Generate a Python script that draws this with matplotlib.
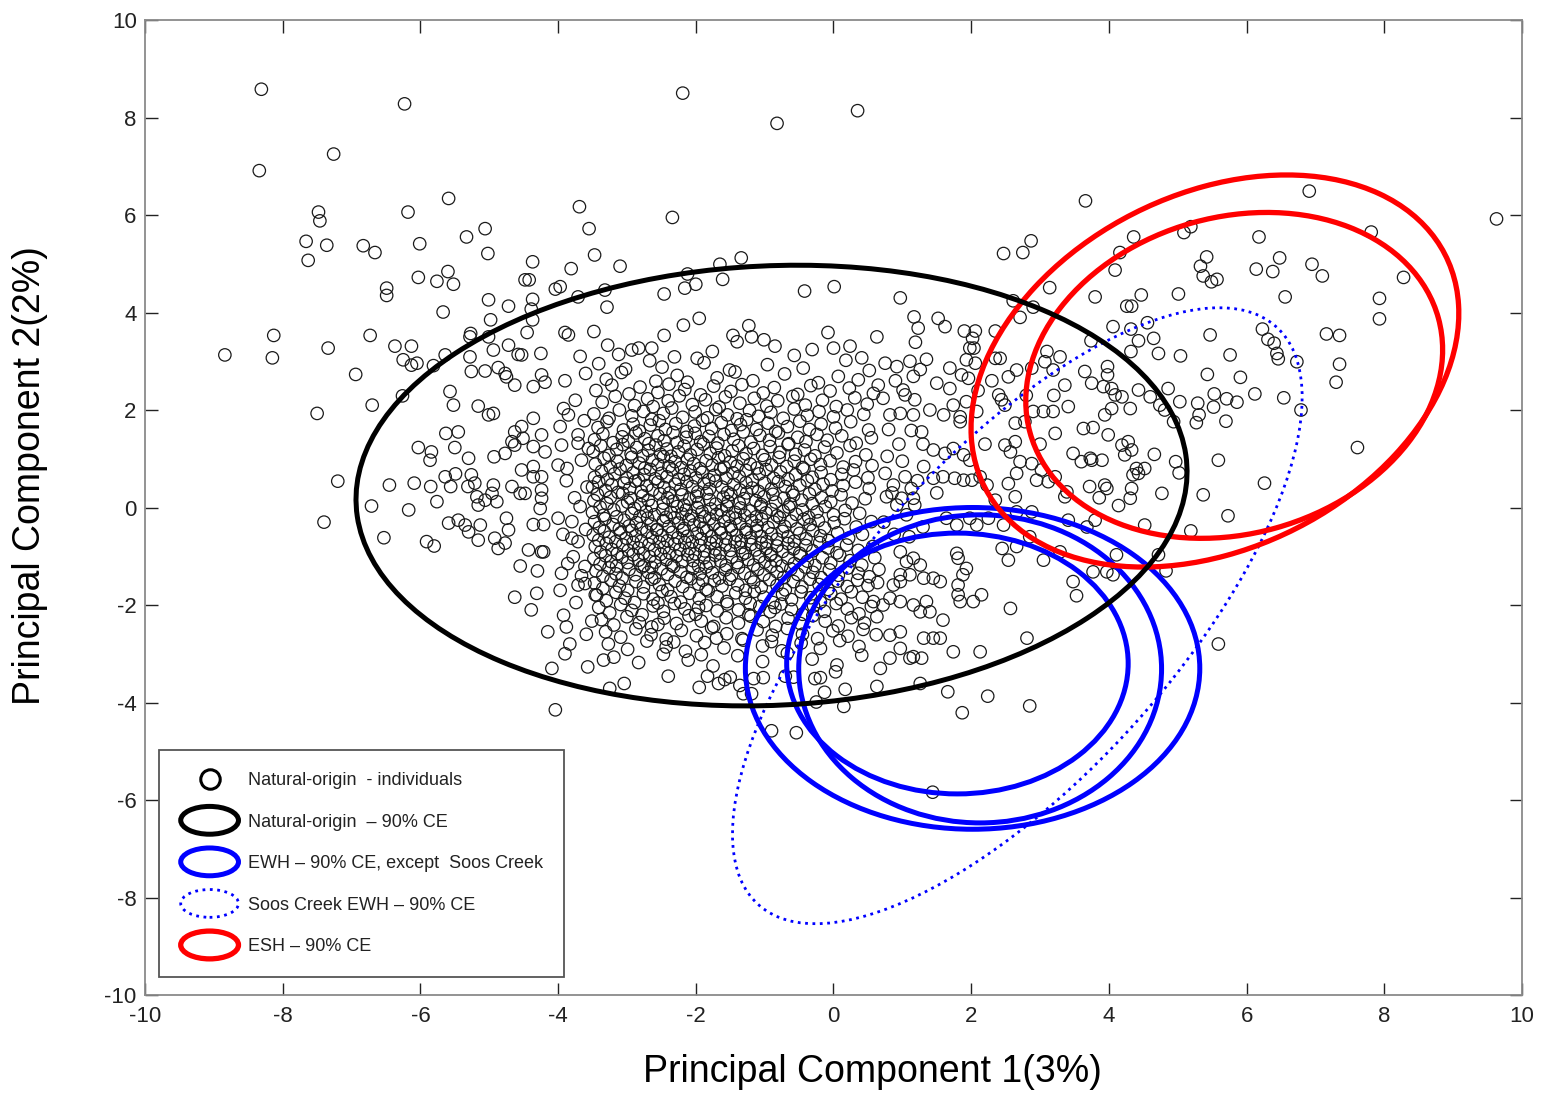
import numpy as np
import matplotlib
matplotlib.use("Agg")
import matplotlib.pyplot as plt
from matplotlib.patches import Ellipse
from matplotlib.legend_handler import HandlerPatch
from matplotlib.lines import Line2D

plt.rcParams['font.family'] = ['Liberation Sans', 'DejaVu Sans']
plt.rcParams['axes.unicode_minus'] = False

# PCA scores of natural-origin individuals (PC1, PC2)
far_left = [
    (-8.31, 8.58), (-6.23, 8.28), (-7.26, 7.25), (-8.34, 6.91), (-5.59, 6.34), (-7.48, 6.06), (-7.46, 5.88),
    (-6.18, 6.06), (-3.69, 6.17), (-5.06, 5.72), (-3.55, 5.72), (-7.66, 5.46), (-7.36, 5.38), (-6.83, 5.37),
    (-6.66, 5.23), (-5.33, 5.55), (-6.01, 5.41), (-5.02, 5.21), (-7.63, 5.07), (-3.47, 5.18), (-4.37, 5.04),
    (-3.81, 4.90), (-5.60, 4.84), (-6.03, 4.72), (-5.76, 4.64), (-5.52, 4.58), (-6.49, 4.50), (-6.49, 4.35),
    (-4.48, 4.67), (-4.42, 4.67), (-4.04, 4.48), (-3.97, 4.53), (-5.01, 4.26), (-4.37, 4.27), (-4.72, 4.13),
    (-4.39, 4.07), (-4.37, 3.85), (-5.67, 4.01), (-4.98, 3.85), (-8.13, 3.53), (-6.73, 3.53), (-5.27, 3.57),
    (-5.28, 3.50), (-5.01, 3.50), (-4.45, 3.59), (-3.90, 3.59), (-3.85, 3.54), (-3.48, 3.61), (-3.71, 4.32),
    (-3.32, 4.46), (-7.34, 3.27), (-6.37, 3.31), (-6.13, 3.31), (-4.94, 3.23), (-4.72, 3.33), (-8.84, 3.13),
    (-8.15, 3.07), (-6.94, 2.73), (-7.50, 1.93), (-6.70, 2.10), (-7.20, 0.54), (-7.40, -0.30), (-6.71, 0.03),
    (-6.53, -0.62), (-6.45, 0.46), (-6.09, 0.50), (-6.17, -0.05), (-6.26, 2.29), (-6.25, 3.03), (-6.13, 2.92),
    (-6.05, 2.96), (-5.81, 2.91), (-5.64, 3.13), (-5.28, 3.09), (-4.58, 3.14), (-4.53, 3.13), (-4.25, 3.16),
    (-5.26, 2.79), (-5.06, 2.80), (-4.87, 2.87), (-4.77, 2.75), (-4.75, 2.68), (-4.63, 2.51), (-4.36, 2.48),
    (-4.24, 2.72), (-4.19, 2.57), (-5.57, 2.38), (-5.52, 2.10), (-5.16, 2.08), (-5.01, 1.90), (-4.94, 1.93),
    (-5.63, 1.52), (-5.45, 1.55), (-5.50, 1.23), (-6.03, 1.23), (-5.84, 1.14), (-5.86, 0.97), (-5.30, 1.01),
    (-5.64, 0.63), (-5.49, 0.69), (-5.26, 0.67), (-5.85, 0.43), (-5.56, 0.43), (-5.21, 0.50), (-5.31, 0.43),
    (-5.76, 0.12), (-5.18, 0.22), (-5.06, 0.15), (-4.94, 0.46), (-4.96, 0.29), (-4.89, 0.12), (-5.16, 0.05),
    (-5.59, -0.32), (-5.45, -0.26), (-5.35, -0.36), (-5.30, -0.50), (-5.16, -0.67), (-5.13, -0.36), (-5.91, -0.70),
    (-5.80, -0.79), (-4.92, -0.63), (-4.77, -0.73), (-4.87, -0.84), (-4.72, -0.46), (-4.75, -0.22), (-4.93, 1.04),
    (-4.77, 1.11), (-4.63, 1.28), (-4.51, 1.42), (-4.63, 1.55), (-4.67, 1.35), (-4.53, 1.66), (-4.36, 1.83),
    (-4.24, 1.49), (-4.36, 1.25), (-4.19, 1.14), (-4.53, 0.77), (-4.36, 0.84), (-4.36, 0.63), (-4.24, 0.63),
    (-4.24, 0.36), (-4.00, 0.87), (-3.87, 0.80), (-4.67, 0.43), (-4.55, 0.29), (-4.48, 0.29), (-4.24, 0.19),
    (-4.26, -0.02), (-4.36, -0.35), (-4.21, -0.35), (-4.00, -0.22), (-3.97, 1.66), (-4.43, -0.87), (-4.24, -0.91),
    (-4.21, -0.91), (-3.92, 2.03), (-3.95, 1.28), (-3.71, 1.49), (-3.71, 1.32), (-3.56, 1.21), (-3.66, 0.97),
    (-3.68, 0.02), (-3.80, -0.29), (-3.80, -0.63), (-3.71, -0.70), (-3.95, -1.35), (-3.78, -1.01), (-3.61, -1.21),
    (-4.63, -1.84), (-4.31, -1.76), (-4.39, -2.10), (-3.92, -2.21), (-3.88, -2.45), (-3.51, -2.33), (-3.71, -1.59),
    (-3.61, -1.56), (-3.46, -1.79), (-4.09, -3.30), (-3.57, -3.27), (-3.34, -3.13), (-4.04, -4.15),
    (-3.90, 2.60), (-3.75, 2.20), (-3.60, 2.75), (-3.85, 1.90), (-3.62, 1.78), (-3.88, 0.55), (-3.58, 0.42),
    (-3.76, 0.20), (-3.93, -0.55), (-3.60, -0.45), (-3.86, -1.15), (-3.66, -1.40), (-3.97, -1.70), (-3.74, -1.95),
    (-3.59, -2.60), (-3.83, -2.80), (-4.15, -2.55), (-4.30, -1.30), (-4.55, -1.20), (-3.68, 3.10), (-3.90, -3.00),
]

top_band = [
    (-2.19, 8.50), (-0.82, 7.88), (0.35, 8.14), (-2.34, 5.95), (-3.10, 4.95), (-1.34, 5.12), (-1.65, 4.99),
    (-2.12, 4.79), (-1.61, 4.68), (-2.00, 4.58), (-2.16, 4.50), (-2.46, 4.38), (-3.29, 4.11), (-0.42, 4.44),
    (0.01, 4.53), (0.97, 4.30), (2.47, 5.21), (2.75, 5.23), (2.87, 5.47), (2.61, 4.24), (2.71, 3.90),
    (2.90, 4.11), (3.14, 4.51), (-1.95, 3.88), (-2.18, 3.74), (-2.46, 3.53), (-3.28, 3.33), (-1.23, 3.73),
    (-1.19, 3.50), (-1.46, 3.53), (-1.40, 3.40), (-1.01, 3.44), (-0.85, 3.31), (-0.08, 3.59), (0.00, 3.27),
    (0.24, 3.31), (0.63, 3.50), (1.17, 3.91), (1.23, 3.68), (1.19, 3.39), (1.52, 3.88), (1.62, 3.71),
    (1.90, 3.62), (2.06, 3.62), (2.02, 3.47), (2.35, 3.62), (2.04, 3.27), (-2.64, 3.27), (-2.93, 3.23),
]

right_side = [
    (3.66, 6.29), (6.91, 6.49), (9.63, 5.92), (4.36, 5.55), (4.16, 5.23), (4.09, 4.87), (5.09, 5.64),
    (5.19, 5.76), (6.18, 5.55), (7.81, 5.65), (5.42, 5.14), (5.33, 4.95), (5.37, 4.75), (5.49, 4.63),
    (5.57, 4.68), (6.14, 4.89), (6.38, 4.84), (6.48, 5.12), (6.95, 4.99), (7.10, 4.75), (8.28, 4.72),
    (3.80, 4.32), (4.47, 4.36), (4.26, 4.13), (4.33, 4.13), (5.01, 4.38), (6.56, 4.32), (7.93, 4.29),
    (7.93, 3.87), (4.06, 3.71), (4.32, 3.66), (4.56, 3.79), (4.43, 3.42), (4.65, 3.47), (3.74, 3.42),
    (5.47, 3.54), (6.23, 3.66), (6.31, 3.45), (6.40, 3.37), (7.16, 3.56), (7.35, 3.53),
    (4.72, 3.16), (5.04, 3.11), (5.76, 3.13), (6.44, 3.16), (6.46, 3.05), (6.73, 2.99), (7.35, 2.94),
    (7.30, 2.57), (5.43, 2.73), (5.91, 2.67), (6.12, 2.33), (6.54, 2.25), (6.79, 2.00), (5.53, 2.33),
    (5.71, 2.23), (5.86, 2.16), (5.52, 2.06), (5.29, 2.14), (5.03, 2.17), (5.31, 1.90), (5.27, 1.74),
    (5.70, 1.77), (7.61, 1.23), (5.59, 0.97), (6.26, 0.50), (5.37, 0.26), (5.73, -0.17), (5.19, -0.48),
    (5.59, -2.80), (4.86, 2.44), (4.66, 1.09), (4.97, 0.94), (5.02, 0.71), (4.77, 0.29), (4.32, 3.20),
    (3.98, 2.89), (3.98, 2.72), (3.65, 2.79), (3.75, 2.55), (3.92, 2.48), (4.04, 2.44), (4.09, 2.31),
    (4.19, 2.27), (4.31, 2.03), (4.04, 2.03), (3.94, 1.90), (3.36, 2.51), (3.41, 2.07), (3.29, 3.09),
    (4.43, 2.41), (4.60, 2.27), (4.74, 2.10), (4.81, 2.00), (4.94, 1.76), (3.63, 1.62), (3.77, 1.64),
    (3.99, 1.49), (4.19, 1.28), (4.28, 1.35), (4.33, 1.18), (4.23, 1.08), (3.48, 1.11), (3.60, 0.94),
    (3.73, 1.01), (3.75, 0.97), (3.90, 0.97), (4.40, 0.80), (4.52, 0.80), (4.35, 0.67), (4.43, 0.70),
    (4.33, 0.39), (4.31, 0.19), (4.14, 0.04), (3.94, 0.46), (3.97, 0.39), (3.72, 0.43), (3.86, 0.20),
    (3.39, 0.32), (3.36, 0.22), (3.41, -0.26), (3.80, -0.26), (3.68, -0.40), (4.52, -0.36), (4.11, -0.97),
    (3.97, -1.32), (4.06, -1.38), (3.77, -1.32), (4.72, -0.97), (4.83, -1.30), (3.48, -1.52), (3.53, -1.81),
]

mid_right = [
    (1.69, 2.86), (1.86, 2.72), (1.96, 2.65), (1.93, 3.03), (2.06, 2.96), (2.35, 3.06), (2.42, 3.06),
    (2.66, 2.82), (2.88, 2.86), (3.07, 2.99), (3.19, 2.82), (3.10, 3.20), (1.98, 3.27), (1.69, 2.44),
    (1.74, 2.10), (1.84, 1.86), (1.93, 2.17), (1.84, 1.76), (2.08, 1.97), (2.40, 2.31), (2.44, 2.21),
    (2.54, 2.68), (2.49, 2.10), (2.90, 1.97), (3.05, 1.97), (3.19, 1.97), (2.64, 1.73), (2.78, 1.76),
    (3.22, 1.52), (0.75, 2.96), (0.92, 2.89), (1.11, 3.00), (1.35, 3.04), (1.16, 2.69), (1.26, 2.83),
    (0.65, 2.51), (1.01, 2.41), (1.04, 2.31), (1.18, 2.21), (0.72, 2.24), (0.82, 1.90), (0.97, 1.93),
    (1.16, 1.90), (1.13, 1.58), (1.28, 1.55), (1.45, 1.18), (1.62, 1.11), (1.74, 1.21), (1.89, 1.08),
    (1.98, 0.97), (1.31, 0.84), (1.45, 0.60), (1.59, 0.63), (1.76, 0.60), (1.89, 0.56), (2.01, 0.56),
    (2.13, 0.63), (2.23, 0.46), (2.49, 1.28), (2.64, 1.35), (2.57, 1.14), (2.71, 0.94), (2.88, 0.90),
    (3.02, 0.77), (3.12, 0.53), (2.95, 0.56), (3.22, 0.63), (2.66, 0.70), (2.54, 0.49), (2.64, 0.22),
    (2.35, 0.15), (2.66, -0.09), (2.88, -0.09), (0.75, 0.70), (0.87, 0.46), (1.04, 0.63), (1.13, 0.39),
    (1.16, 0.19), (0.99, 0.19), (0.77, 0.22), (0.92, 0.05), (1.06, -0.15), (1.18, 0.05), (1.64, -0.22),
    (1.79, -0.36), (1.98, -0.22), (2.08, -0.36), (2.25, -0.22), (2.47, -0.36), (2.66, -0.80), (2.85, -0.60),
    (3.05, -1.08), (3.29, -0.91), (2.54, -1.08), (2.45, -0.84), (1.79, -0.94), (1.81, -1.04), (1.93, -1.25),
    (1.88, -1.38), (1.81, -1.59), (1.81, -1.79), (1.84, -1.93), (2.03, -1.93), (2.15, -1.79), (2.57, -2.07),
    (2.81, -2.68), (2.13, -2.96), (1.74, -2.96), (1.59, -2.31), (1.45, -2.68), (1.55, -2.68), (1.31, -2.68),
    (1.16, -3.06), (1.28, -3.09), (0.97, -0.91), (1.06, -1.11), (1.16, -1.04), (1.26, -1.18), (0.97, -1.38),
    (1.11, -1.38), (1.31, -1.45), (1.45, -1.45), (1.55, -1.52), (0.87, -1.59), (0.97, -1.52), (0.82, -1.86),
    (0.97, -1.93), (1.16, -2.00), (1.35, -1.93), (1.40, -2.14), (1.26, -2.14), (0.72, -2.00), (0.82, -2.62),
    (0.97, -2.55), (0.97, -2.89), (0.82, -3.09), (0.68, -3.30), (1.11, -3.09),
    (0.80, 1.60), (0.95, 1.30), (0.78, 1.05), (1.00, 0.95), (0.85, 0.30), (1.30, 1.30), (1.22, 0.55),
    (1.40, 2.00), (1.50, 2.55), (0.90, 2.60), (0.73, -0.30), (0.88, -0.55), (1.10, -0.60), (1.30, -0.40),
    (1.50, 0.30), (2.20, 1.30), (2.30, 2.60), (2.10, 2.40), (1.60, 1.90), (2.80, 2.30), (3.00, 1.30), (3.20, 2.30),
]

lower_band = [
    (-3.25, -3.71), (-3.04, -3.61), (-2.40, -3.46), (-1.95, -3.69), (-1.83, -3.46), (-1.67, -3.61), (-1.58, -3.53),
    (-1.50, -3.48), (-1.36, -3.65), (-1.31, -3.82), (-1.19, -3.82), (-1.16, -3.51), (-1.02, -3.49), (-0.70, -3.46),
    (-0.58, -3.48), (-0.27, -3.51), (-0.19, -3.49), (-0.13, -3.79), (-0.25, -3.99), (0.17, -3.73), (0.15, -4.08),
    (0.03, -3.37), (0.63, -3.67), (1.26, -3.61), (1.66, -3.78), (1.87, -4.21), (2.24, -3.87), (2.85, -4.07),
    (-0.90, -4.58), (-0.54, -4.62), (1.44, -5.84),
]

core_upper = [
    (-3.12, 3.14), (-2.83, 3.27), (-2.31, 3.09), (-1.76, 3.2), (-0.57, 3.12), (-0.31, 3.24), (0.41, 3.07), (-1.98, 3.06),
    (-3.41, 2.95), (-3.02, 2.84), (-2.67, 3.01), (-2.49, 2.88), (-1.88, 2.97), (-1.51, 2.82), (-0.96, 2.93), (-0.44, 2.86),
    (0.18, 3.02), (0.52, 2.81),
    (-3.3, 2.63), (-3.08, 2.77), (-2.58, 2.59), (-2.27, 2.71), (-2.12, 2.57), (-1.69, 2.66), (-1.43, 2.78), (-1.17, 2.6),
    (-0.71, 2.74), (-0.22, 2.56), (0.07, 2.69), (0.36, 2.62),
    (-3.45, 2.4), (-3.22, 2.51), (-2.97, 2.33), (-2.81, 2.47), (-2.55, 2.36), (-2.39, 2.53), (-2.16, 2.42), (-1.93, 2.31),
    (-1.74, 2.49), (-1.49, 2.38), (-1.33, 2.52), (-1.02, 2.35), (-0.86, 2.46), (-0.52, 2.32), (-0.33, 2.5), (-0.05, 2.39),
    (0.23, 2.45), (0.58, 2.34),
    (-3.36, 2.16), (-3.17, 2.28), (-2.89, 2.09), (-2.7, 2.23), (-2.62, 2.07), (-2.4, 2.19), (-2.24, 2.29), (-2.05, 2.11),
    (-1.86, 2.21), (-1.66, 2.06), (-1.57, 2.27), (-1.36, 2.14), (-1.15, 2.24), (-0.97, 2.08), (-0.81, 2.19), (-0.59, 2.28),
    (-0.41, 2.1), (-0.16, 2.2), (0.04, 2.07), (0.31, 2.25), (0.49, 2.12),
    (-3.48, 1.92), (-3.26, 1.83), (-3.11, 2.0), (-2.93, 1.88), (-2.76, 1.97), (-2.64, 1.81), (-2.47, 1.93), (-2.35, 2.04),
    (-2.19, 1.85), (-2.01, 1.96), (-1.83, 1.84), (-1.71, 2.01), (-1.54, 1.9), (-1.4, 1.82), (-1.22, 1.99), (-1.09, 1.87),
    (-0.91, 1.95), (-0.73, 1.83), (-0.57, 2.02), (-0.38, 1.89), (-0.21, 1.97), (0.0, 1.86), (0.2, 2.0), (0.44, 1.91),
    (-3.42, 1.64), (-3.29, 1.76), (-3.05, 1.59), (-2.91, 1.71), (-2.82, 1.57), (-2.66, 1.69), (-2.53, 1.78), (-2.44, 1.6),
    (-2.29, 1.72), (-2.13, 1.56), (-2.02, 1.67), (-1.9, 1.79), (-1.77, 1.62), (-1.63, 1.74), (-1.48, 1.58), (-1.35, 1.7),
    (-1.26, 1.8), (-1.12, 1.6), (-0.95, 1.73), (-0.84, 1.56), (-0.67, 1.66), (-0.49, 1.77), (-0.35, 1.6), (-0.18, 1.71),
    (0.03, 1.63), (0.25, 1.76), (0.51, 1.59),
    (-3.47, 1.39), (-3.35, 1.51), (-3.2, 1.33), (-3.07, 1.45), (-2.98, 1.36), (-2.87, 1.53), (-2.74, 1.41), (-2.68, 1.31),
    (-2.55, 1.47), (-2.46, 1.37), (-2.33, 1.54), (-2.27, 1.33), (-2.14, 1.44), (-2.01, 1.52), (-1.93, 1.35), (-1.81, 1.46),
    (-1.68, 1.32), (-1.59, 1.5), (-1.45, 1.4), (-1.31, 1.55), (-1.2, 1.34), (-1.07, 1.48), (-0.93, 1.38), (-0.8, 1.53),
    (-0.65, 1.31), (-0.52, 1.44), (-0.4, 1.35), (-0.24, 1.5), (-0.09, 1.38), (0.12, 1.47), (0.33, 1.32), (0.55, 1.43),
]

core_middle = [
    (-3.49, 1.15), (-3.38, 1.27), (-3.26, 1.07), (-3.15, 1.19), (-3.06, 1.29), (-2.94, 1.1), (-2.86, 1.23), (-2.77, 1.06),
    (-2.69, 1.17), (-2.58, 1.28), (-2.51, 1.09), (-2.42, 1.2), (-2.36, 1.05), (-2.25, 1.14), (-2.17, 1.26), (-2.08, 1.08),
    (-1.98, 1.19), (-1.89, 1.3), (-1.79, 1.11), (-1.7, 1.22), (-1.58, 1.06), (-1.47, 1.16), (-1.38, 1.27), (-1.27, 1.1),
    (-1.16, 1.21), (-1.03, 1.07), (-0.92, 1.25), (-0.78, 1.13), (-0.66, 1.29), (-0.55, 1.09), (-0.42, 1.18), (-0.27, 1.06),
    (-0.13, 1.24), (0.05, 1.12), (0.24, 1.27), (0.47, 1.08),
    (-3.46, 0.89), (-3.33, 1.01), (-3.24, 0.83), (-3.14, 0.95), (-3.01, 0.86), (-2.93, 1.03), (-2.82, 0.91), (-2.74, 0.81),
    (-2.63, 0.97), (-2.55, 0.88), (-2.47, 1.04), (-2.39, 0.84), (-2.3, 0.94), (-2.21, 0.82), (-2.12, 0.99), (-2.03, 0.9),
    (-1.94, 0.8), (-1.85, 0.96), (-1.76, 0.87), (-1.67, 1.02), (-1.59, 0.83), (-1.5, 0.93), (-1.4, 0.85), (-1.31, 1.0),
    (-1.21, 0.89), (-1.11, 0.81), (-1.0, 0.98), (-0.9, 0.87), (-0.79, 1.03), (-0.68, 0.84), (-0.57, 0.95), (-0.45, 0.82),
    (-0.33, 0.99), (-0.19, 0.88), (-0.05, 0.96), (0.14, 0.83), (0.32, 0.94), (0.56, 0.86),
    (-3.47, 0.62), (-3.37, 0.74), (-3.28, 0.57), (-3.18, 0.69), (-3.1, 0.79), (-3.0, 0.6), (-2.91, 0.71), (-2.83, 0.56),
    (-2.75, 0.67), (-2.66, 0.78), (-2.59, 0.59), (-2.5, 0.7), (-2.42, 0.63), (-2.34, 0.77), (-2.25, 0.58), (-2.17, 0.68),
    (-2.08, 0.75), (-2.0, 0.61), (-1.91, 0.72), (-1.81, 0.57), (-1.73, 0.66), (-1.64, 0.79), (-1.56, 0.6), (-1.46, 0.71),
    (-1.37, 0.64), (-1.27, 0.76), (-1.18, 0.56), (-1.08, 0.69), (-0.98, 0.78), (-0.87, 0.6), (-0.77, 0.73), (-0.66, 0.58),
    (-0.55, 0.67), (-0.43, 0.79), (-0.31, 0.62), (-0.18, 0.72), (-0.04, 0.57), (0.12, 0.68), (0.29, 0.77), (0.5, 0.61),
    (-3.5, 0.42), (-3.41, 0.53), (-3.31, 0.35), (-3.22, 0.47), (-3.13, 0.31), (-3.04, 0.5), (-2.96, 0.39), (-2.88, 0.54),
    (-2.79, 0.33), (-2.71, 0.45), (-2.63, 0.36), (-2.55, 0.52), (-2.46, 0.41), (-2.38, 0.3), (-2.3, 0.48), (-2.22, 0.37),
    (-2.13, 0.53), (-2.05, 0.43), (-1.97, 0.32), (-1.88, 0.49), (-1.8, 0.38), (-1.71, 0.54), (-1.62, 0.42), (-1.54, 0.31),
    (-1.45, 0.47), (-1.36, 0.36), (-1.27, 0.51), (-1.18, 0.4), (-1.09, 0.33), (-1.0, 0.5), (-0.9, 0.38), (-0.8, 0.53),
    (-0.7, 0.43), (-0.6, 0.32), (-0.49, 0.46), (-0.38, 0.55), (-0.27, 0.37), (-0.15, 0.48), (-0.02, 0.34), (0.14, 0.45),
    (0.32, 0.52), (0.52, 0.39),
    (-3.48, 0.14), (-3.43, 0.27), (-3.29, 0.08), (-3.24, 0.21), (-3.06, 0.29), (-2.99, 0.11), (-2.95, 0.19), (-2.8, 0.06),
    (-2.77, 0.24), (-2.69, 0.15), (-2.52, 0.28), (-2.47, 0.09), (-2.41, 0.2), (-2.33, 0.13), (-2.2, 0.26), (-2.17, 0.05),
    (-2.09, 0.17), (-1.99, 0.23), (-1.96, 0.1), (-1.84, 0.29), (-1.8, 0.16), (-1.71, 0.07), (-1.6, 0.21), (-1.53, 0.12),
    (-1.49, 0.27), (-1.37, 0.09), (-1.3, 0.18), (-1.26, 0.3), (-1.13, 0.14), (-1.05, 0.06), (-1.01, 0.22), (-0.88, 0.27),
    (-0.84, 0.11), (-0.72, 0.19), (-0.63, 0.07), (-0.58, 0.25), (-0.46, 0.15), (-0.35, 0.28), (-0.31, 0.08), (-0.17, 0.2),
    (-0.04, 0.12), (0.11, 0.26), (0.27, 0.09), (0.46, 0.18),
    (-3.5, -0.1), (-3.39, 0.01), (-3.34, -0.16), (-3.19, -0.05), (-3.15, -0.19), (-3.07, 0.03), (-2.93, -0.12), (-2.89, -0.02),
    (-2.81, -0.18), (-2.72, -0.08), (-2.64, 0.04), (-2.6, -0.15), (-2.48, -0.04), (-2.43, -0.2), (-2.36, -0.1), (-2.27, 0.02),
    (-2.2, -0.13), (-2.14, -0.05), (-2.06, -0.17), (-1.98, 0.0), (-1.91, -0.09), (-1.87, -0.19), (-1.78, -0.03), (-1.7, -0.14),
    (-1.63, -0.06), (-1.55, 0.03), (-1.52, -0.18), (-1.43, -0.1), (-1.35, -0.01), (-1.29, -0.16), (-1.21, -0.07), (-1.12, -0.19),
    (-1.06, 0.02), (-0.98, -0.11), (-0.9, -0.04), (-0.82, -0.17), (-0.73, -0.08), (-0.65, 0.01), (-0.54, -0.14), (-0.45, -0.05),
    (-0.36, -0.2), (-0.24, -0.09), (-0.12, 0.02), (0.0, -0.15), (0.17, -0.06), (0.38, -0.12),
    (-3.47, -0.29), (-3.4, -0.41), (-3.32, -0.23), (-3.2, -0.35), (-3.11, -0.44), (-3.04, -0.26), (-2.97, -0.38), (-2.86, -0.31),
    (-2.79, -0.43), (-2.7, -0.22), (-2.65, -0.34), (-2.56, -0.45), (-2.47, -0.27), (-2.39, -0.39), (-2.31, -0.21), (-2.25, -0.32),
    (-2.17, -0.43), (-2.1, -0.25), (-2.03, -0.36), (-1.94, -0.29), (-1.89, -0.42), (-1.8, -0.23), (-1.74, -0.34), (-1.65, -0.44),
    (-1.59, -0.28), (-1.5, -0.38), (-1.42, -0.22), (-1.36, -0.33), (-1.27, -0.45), (-1.19, -0.27), (-1.11, -0.37), (-1.04, -0.24),
    (-0.95, -0.41), (-0.87, -0.3), (-0.78, -0.21), (-0.71, -0.39), (-0.62, -0.28), (-0.53, -0.44), (-0.43, -0.24), (-0.34, -0.35),
    (-0.22, -0.27), (-0.13, -0.42), (0.01, -0.31), (0.16, -0.23), (0.33, -0.4), (0.55, -0.29),
]

core_lower = [
    (-3.49, -0.56), (-3.41, -0.67), (-3.33, -0.49), (-3.26, -0.61), (-3.16, -0.7), (-3.09, -0.52), (-3.01, -0.63), (-2.93, -0.47),
    (-2.87, -0.58), (-2.79, -0.69), (-2.71, -0.5), (-2.63, -0.61), (-2.57, -0.46), (-2.49, -0.57), (-2.41, -0.68), (-2.34, -0.51),
    (-2.26, -0.62), (-2.19, -0.47), (-2.12, -0.59), (-2.05, -0.7), (-1.98, -0.53), (-1.92, -0.64), (-1.84, -0.48), (-1.77, -0.6),
    (-1.7, -0.69), (-1.63, -0.52), (-1.56, -0.63), (-1.48, -0.46), (-1.41, -0.57), (-1.34, -0.68), (-1.27, -0.51), (-1.2, -0.62),
    (-1.12, -0.48), (-1.05, -0.59), (-0.97, -0.7), (-0.9, -0.54), (-0.82, -0.65), (-0.74, -0.49), (-0.66, -0.6), (-0.57, -0.69),
    (-0.49, -0.53), (-0.4, -0.64), (-0.3, -0.47), (-0.19, -0.58), (-0.07, -0.68), (0.06, -0.52), (0.22, -0.63), (0.42, -0.55),
    (-3.46, -0.8), (-3.38, -0.91), (-3.3, -0.74), (-3.22, -0.86), (-3.14, -0.95), (-3.06, -0.77), (-2.98, -0.88), (-2.91, -0.72),
    (-2.83, -0.83), (-2.76, -0.94), (-2.68, -0.76), (-2.6, -0.87), (-2.53, -0.71), (-2.46, -0.82), (-2.38, -0.93), (-2.31, -0.75),
    (-2.23, -0.86), (-2.16, -0.72), (-2.09, -0.84), (-2.01, -0.95), (-1.94, -0.78), (-1.87, -0.89), (-1.79, -0.73), (-1.72, -0.85),
    (-1.65, -0.94), (-1.57, -0.77), (-1.5, -0.88), (-1.43, -0.71), (-1.35, -0.82), (-1.28, -0.93), (-1.2, -0.76), (-1.13, -0.87),
    (-1.05, -0.73), (-0.98, -0.84), (-0.9, -0.95), (-0.82, -0.79), (-0.74, -0.9), (-0.66, -0.74), (-0.58, -0.85), (-0.49, -0.94),
    (-0.4, -0.78), (-0.3, -0.89), (-0.2, -0.72), (-0.08, -0.83), (0.05, -0.93), (0.19, -0.77), (0.36, -0.88), (0.57, -0.8),
    (-3.48, -1.05), (-3.39, -1.16), (-3.31, -0.99), (-3.23, -1.11), (-3.15, -1.2), (-3.07, -1.02), (-2.99, -1.13), (-2.91, -0.97),
    (-2.83, -1.08), (-2.75, -1.19), (-2.67, -1.01), (-2.59, -1.12), (-2.51, -0.96), (-2.43, -1.07), (-2.35, -1.18), (-2.28, -1.0),
    (-2.2, -1.11), (-2.12, -0.97), (-2.04, -1.09), (-1.96, -1.2), (-1.88, -1.03), (-1.8, -1.14), (-1.72, -0.98), (-1.64, -1.1),
    (-1.56, -1.19), (-1.48, -1.02), (-1.4, -1.13), (-1.32, -0.96), (-1.24, -1.07), (-1.16, -1.18), (-1.08, -1.01), (-1.0, -1.12),
    (-0.92, -0.98), (-0.84, -1.09), (-0.75, -1.2), (-0.66, -1.04), (-0.57, -1.15), (-0.48, -0.99), (-0.38, -1.1), (-0.27, -1.19),
    (-0.16, -1.03), (-0.04, -1.14), (0.09, -0.98), (0.24, -1.09), (0.41, -1.18), (0.6, -1.03),
    (-3.45, -1.3), (-3.35, -1.41), (-3.26, -1.24), (-3.16, -1.36), (-3.07, -1.45), (-2.97, -1.27), (-2.88, -1.38), (-2.78, -1.22),
    (-2.69, -1.33), (-2.6, -1.44), (-2.5, -1.26), (-2.41, -1.37), (-2.32, -1.21), (-2.22, -1.32), (-2.13, -1.43), (-2.04, -1.25),
    (-1.94, -1.36), (-1.85, -1.22), (-1.76, -1.34), (-1.66, -1.45), (-1.57, -1.28), (-1.48, -1.39), (-1.38, -1.23), (-1.29, -1.35),
    (-1.2, -1.44), (-1.1, -1.27), (-1.01, -1.38), (-0.91, -1.21), (-0.82, -1.32), (-0.72, -1.43), (-0.62, -1.26), (-0.52, -1.37),
    (-0.41, -1.22), (-0.3, -1.33), (-0.18, -1.44), (-0.06, -1.28), (0.07, -1.39), (0.21, -1.24), (0.36, -1.35), (0.52, -1.42),
    (0.66, -1.27), (-2.64, -1.23),
    (-3.47, -1.55), (-3.35, -1.66), (-3.23, -1.49), (-3.11, -1.61), (-2.99, -1.7), (-2.87, -1.52), (-2.76, -1.63), (-2.64, -1.47),
    (-2.53, -1.58), (-2.41, -1.69), (-2.3, -1.51), (-2.19, -1.62), (-2.07, -1.46), (-1.96, -1.57), (-1.85, -1.68), (-1.73, -1.5),
    (-1.62, -1.61), (-1.51, -1.47), (-1.39, -1.59), (-1.28, -1.7), (-1.16, -1.53), (-1.05, -1.64), (-0.93, -1.48), (-0.82, -1.6),
    (-0.7, -1.69), (-0.58, -1.52), (-0.46, -1.63), (-0.34, -1.47), (-0.21, -1.58), (-0.08, -1.68), (0.06, -1.51), (0.2, -1.62),
    (0.35, -1.49), (0.5, -1.6), (0.64, -1.54), (-1.9, -1.49),
    (-3.44, -1.8), (-3.3, -1.91), (-3.16, -1.74), (-3.03, -1.86), (-2.89, -1.95), (-2.76, -1.77), (-2.62, -1.88), (-2.49, -1.72),
    (-2.36, -1.83), (-2.22, -1.94), (-2.09, -1.76), (-1.95, -1.87), (-1.82, -1.71), (-1.69, -1.83), (-1.55, -1.93), (-1.42, -1.75),
    (-1.28, -1.86), (-1.15, -1.72), (-1.01, -1.84), (-0.88, -1.95), (-0.74, -1.78), (-0.61, -1.89), (-0.47, -1.73), (-0.33, -1.85),
    (-0.19, -1.94), (-0.04, -1.77), (0.11, -1.88), (0.26, -1.73), (0.42, -1.84), (0.58, -1.93), (-2.55, -1.96), (-1.21, -1.97),
    (-3.41, -2.05), (-3.25, -2.16), (-3.09, -1.99), (-2.93, -2.11), (-2.78, -2.2), (-2.62, -2.02), (-2.47, -2.13), (-2.31, -1.97),
    (-2.16, -2.08), (-2.0, -2.19), (-1.85, -2.01), (-1.69, -2.12), (-1.54, -1.98), (-1.38, -2.1), (-1.23, -2.2), (-1.07, -2.03),
    (-0.92, -2.14), (-0.76, -1.98), (-0.61, -2.09), (-0.45, -2.19), (-0.29, -2.02), (-0.13, -2.13), (0.04, -1.97), (0.2, -2.08),
    (0.37, -2.18), (0.55, -2.03), (-1.96, -2.05), (-0.85, -2.05),
    (-3.37, -2.3), (-3.19, -2.41), (-3.0, -2.24), (-2.82, -2.36), (-2.64, -2.45), (-2.46, -2.27), (-2.28, -2.38), (-2.1, -2.22),
    (-1.92, -2.33), (-1.74, -2.44), (-1.56, -2.26), (-1.38, -2.37), (-1.2, -2.23), (-1.02, -2.34), (-0.84, -2.44), (-0.66, -2.27),
    (-0.48, -2.38), (-0.3, -2.22), (-0.12, -2.33), (0.07, -2.43), (0.26, -2.26), (0.45, -2.37), (0.63, -2.24), (-2.55, -2.4),
    (-3.31, -2.55), (-3.09, -2.66), (-2.87, -2.49), (-2.65, -2.61), (-2.43, -2.7), (-2.21, -2.52), (-1.99, -2.63), (-1.77, -2.47),
    (-1.55, -2.59), (-1.33, -2.69), (-1.11, -2.51), (-0.89, -2.62), (-0.67, -2.48), (-0.45, -2.6), (-0.23, -2.69), (-0.01, -2.53),
    (0.21, -2.64), (0.43, -2.5), (0.62, -2.61), (-1.7, -2.68),
    (-3.27, -2.8), (-2.99, -2.91), (-2.71, -2.74), (-2.43, -2.86), (-2.15, -2.95), (-1.87, -2.77), (-1.59, -2.88), (-1.31, -2.72),
    (-1.03, -2.84), (-0.75, -2.94), (-0.47, -2.78), (-0.19, -2.89), (0.09, -2.73), (0.37, -2.85), (-2.32, -2.76), (-0.9, -2.75),
    (-3.19, -3.07), (-2.83, -3.18), (-2.47, -3.01), (-2.11, -3.13), (-1.75, -3.25), (-1.39, -3.04), (-1.03, -3.16), (-0.67, -2.99),
    (-0.31, -3.11), (0.05, -3.23), (0.41, -3.03), (-1.92, -3.02),
]

# 90% confidence ellipses: centre (PC1, PC2), full width, full height, rotation (deg)
natural_ce = ((-0.9, 0.45), 12.1, 9.0, 6)
ewh_ce = [((2.02, -3.3), 6.6, 6.6, 0),
          ((1.80, -3.2), 4.96, 5.35, 0),
          ((2.13, -3.31), 5.27, 6.32, 0)]
soos_ce = ((2.67, -2.22), 14.18, 5.2, 60.8)
esh_ce = [((5.54, 2.8), 8.7, 6.26, 56.7),
          ((5.82, 2.71), 6.94, 5.76, 61.2)]

legend_labels = ['Natural-origin  - individuals', 'Natural-origin  \u2013 90% CE',
                 'EWH \u2013 90% CE, except  Soos Creek', 'Soos Creek EWH \u2013 90% CE',
                 'ESH \u2013 90% CE']

pts = np.array(far_left + top_band + right_side + mid_right + lower_band
               + core_upper + core_middle + core_lower)

fig = plt.figure(figsize=(15.45, 10.95), dpi=100)
ax = fig.add_axes([0.09385, 0.09132, 0.89126, 0.89041])

ax.scatter(pts[:, 0], pts[:, 1], s=80, facecolors='none', edgecolors='#1a1a1a',
           linewidths=0.9, zorder=2)


def add_ellipse(spec, **kw):
    (cx, cy), w, h, ang = spec
    e = Ellipse((cx, cy), w, h, angle=ang, fill=False, **kw)
    ax.add_patch(e)
    return e


soos = add_ellipse(soos_ce, edgecolor='blue', lw=2.0, ls=':', zorder=3)
for spec in ewh_ce:
    ewh = add_ellipse(spec, edgecolor='blue', lw=3.6, zorder=3)
for spec in esh_ce:
    esh = add_ellipse(spec, edgecolor='red', lw=3.8, zorder=4)
nat = add_ellipse(natural_ce, edgecolor='black', lw=3.6, zorder=5)

ax.set_xlim(-10, 10)
ax.set_ylim(-10, 10)
ax.set_xticks(np.arange(-10, 11, 2))
ax.set_yticks(np.arange(-10, 11, 2))
ax.tick_params(direction='in', length=9, width=1.0, top=True, right=True,
               labelsize=16, colors='#222222', pad=6)
ax.tick_params(axis='x', pad=8)
for sp in ax.spines.values():
    sp.set_color('#8a8a8a')
    sp.set_linewidth(1.3)

ax.set_xlabel('Principal Component 1(3%)', fontsize=27, va='center')
ax.xaxis.set_label_coords(0.528, -0.079)
ax.set_ylabel('Principal Component 2(2%)', fontsize=27, va='center')
ax.yaxis.set_label_coords(-0.0835, 0.533)


def legend_ellipse(legend, orig_handle, xdescent, ydescent, width, height, fontsize):
    return Ellipse((width / 2 - xdescent, height / 2 - ydescent), width, height * 2.2)


dot = Line2D([], [], ls='none', marker='o', markersize=14, mfc='none', mec='black', mew=2.2)
leg = ax.legend([dot, nat, ewh, soos, esh], legend_labels,
                handler_map={Ellipse: HandlerPatch(patch_func=legend_ellipse)},
                loc='lower left', bbox_to_anchor=(0.0102, 0.0185), borderaxespad=0,
                fontsize=13, handlelength=3.2, handletextpad=0.5, labelspacing=1.36,
                borderpad=1.2, numpoints=1, fancybox=False, framealpha=1,
                edgecolor='#555555')
leg.get_frame().set_linewidth(1.3)
for t in leg.get_texts():
    t.set_color('#222222')

fig.savefig('out.png', dpi=100)
